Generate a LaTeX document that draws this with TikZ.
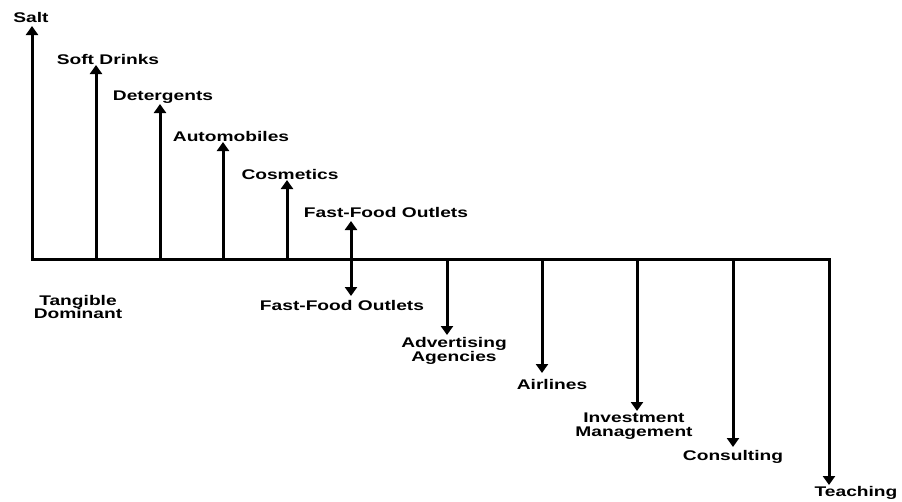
\documentclass[tikz,border=0pt]{standalone}
\usepackage{fontspec}
\setmainfont{Liberation Sans}[FakeStretch=1.37]
\usetikzlibrary{arrows.meta}
\tikzset{
  lbl/.style={font=\bfseries\fontsize{14}{13.5}\selectfont, align=center, inner sep=0pt},
  arr/.style={line width=3pt, -{Triangle[width=12pt,length=9pt]}},
  darr/.style={line width=3pt, {Triangle[width=12pt,length=9pt]}-{Triangle[width=12pt,length=9pt]}},
  axis/.style={line width=3pt, line join=miter, {Triangle[width=12pt,length=9pt]}-{Triangle[width=12pt,length=9pt]}}
}
\begin{document}
\begin{tikzpicture}[x=1pt,y=-1pt]
\useasboundingbox (0,0) rectangle (902,501);
% baseline points
\coordinate (b0) at (32,259);
\coordinate (b1) at (96,259);
\coordinate (b2) at (160,259);
\coordinate (b3) at (223,259);
\coordinate (b4) at (287,259);
\coordinate (b6) at (447,259);
\coordinate (b7) at (542,259);
\coordinate (b8) at (637,259);
\coordinate (b9) at (733,259);
\coordinate (b10) at (829,259);
% tips
\coordinate (t0) at (32,26);
\coordinate (t1) at (96,65);
\coordinate (t2) at (160,104);
\coordinate (t3) at (223,142);
\coordinate (t4) at (287,180);
\coordinate (t5a) at (351,221);
\coordinate (t5b) at (351,296);
\coordinate (t6) at (447,335);
\coordinate (t7) at (542,373);
\coordinate (t8) at (637,411);
\coordinate (t9) at (733,447);
\coordinate (t10) at (829,485);
% labels
\node[lbl] (salt) at (31,17) {Salt};
\node[lbl] (soft) at (108,59) {Soft Drinks};
\node[lbl] (det) at (163,97) {Detergents};
\node[lbl] (auto) at (231,136) {Automobiles};
\node[lbl] (cos) at (290,174) {Cosmetics};
\node[lbl] (fft) at (386,212) {Fast-Food Outlets};
\node[lbl] (ffb) at (342,305) {Fast-Food Outlets};
\node[lbl] (tang) at (78,307) {Tangible\\Dominant};
\node[lbl] (adv) at (454,351) {Advertising\\Agencies};
\node[lbl] (air) at (552,384) {Airlines};
\node[lbl] (inv) at (634,426) {Investment\\Management};
\node[lbl] (cons) at (733,457) {Consulting};
\node[lbl, anchor=north] (teach) at (856,486.5) {Teaching};
% axis with end arrows
\draw[axis] (t0) -- (b0) -- (b10) -- (t10);
% up arrows
\draw[arr] (b1) -- (t1);
\draw[arr] (b2) -- (t2);
\draw[arr] (b3) -- (t3);
\draw[arr] (b4) -- (t4);
% double arrow
\draw[darr] (t5a) -- (t5b);
% down arrows
\draw[arr] (b6) -- (t6);
\draw[arr] (b7) -- (t7);
\draw[arr] (b8) -- (t8);
\draw[arr] (b9) -- (t9);
\end{tikzpicture}
\end{document}
